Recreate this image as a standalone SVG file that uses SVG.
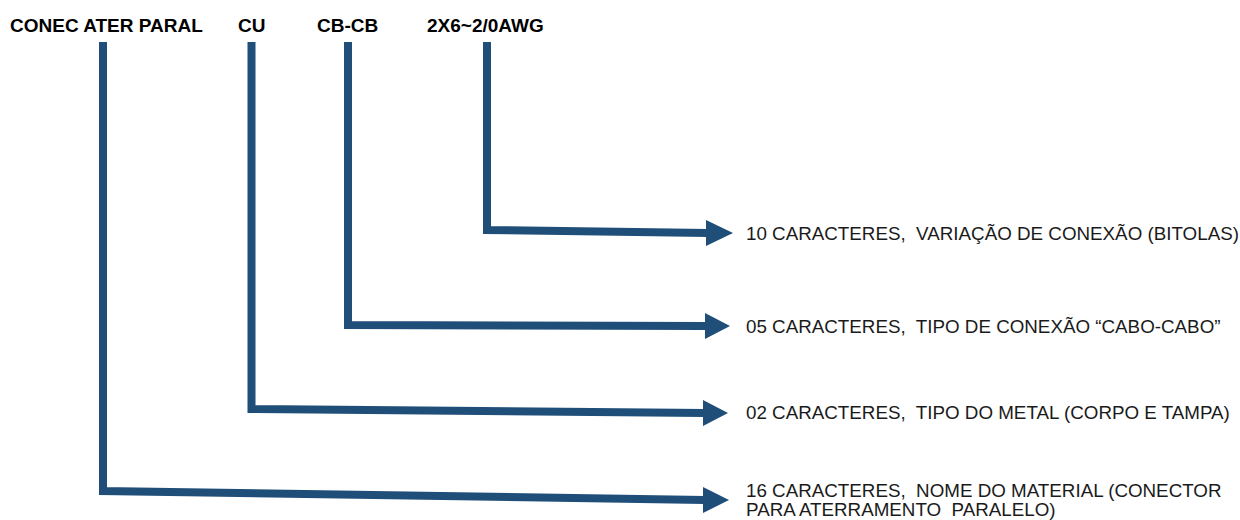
<svg xmlns="http://www.w3.org/2000/svg" width="1240" height="520" viewBox="0 0 1240 520">
<style>
.code{font-family:"Liberation Sans",Arial,sans-serif;font-size:19px;font-weight:bold;fill:#000}
.lbl{font-family:"Liberation Sans",Arial,sans-serif;font-size:18.8px;fill:#1a1a1a}
.ln{fill:none;stroke:#1F4E79;stroke-width:8;stroke-linejoin:miter;stroke-linecap:butt}
.hd{fill:#1F4E79}
</style>
<rect width="1240" height="520" fill="#fff"/>
<g id="codes">
<text class="code" x="10" y="32">CONEC ATER PARAL</text>
<text class="code" x="238" y="32">CU</text>
<text class="code" x="317" y="32">CB-CB</text>
<text class="code" x="427" y="32">2X6~2/0AWG</text>
</g>
<g id="connectors">
<path class="ln" d="M487,42 V230 L708,233"/>
<polygon class="hd" points="706,220 733,233 706,246"/>
<path class="ln" d="M348,42 V325 L707,326"/>
<polygon class="hd" points="705,313 730,326 705,339"/>
<path class="ln" d="M251.5,42 V409 L705,413"/>
<polygon class="hd" points="703,400 728,413 703,426"/>
<path class="ln" d="M103,42 V491 L705,500"/>
<polygon class="hd" points="703,487 729,500 703,513"/>
</g>
<g id="label-bitolas"><text class="lbl" x="746" y="240" xml:space="preserve">10 CARACTERES,  VARIAÇÃO DE CONEXÃO (BITOLAS)</text></g>
<g id="label-conexao"><text class="lbl" x="746" y="333" xml:space="preserve">05 CARACTERES,  TIPO DE CONEXÃO “CABO-CABO”</text></g>
<g id="label-metal"><text class="lbl" x="746" y="419" xml:space="preserve">02 CARACTERES,  TIPO DO METAL (CORPO E TAMPA)</text></g>
<g id="label-material"><text class="lbl" xml:space="preserve"><tspan x="746" y="497">16 CARACTERES,  NOME DO MATERIAL (CONECTOR</tspan><tspan x="746" y="516">PARA ATERRAMENTO  PARALELO)</tspan></text></g>
</svg>
